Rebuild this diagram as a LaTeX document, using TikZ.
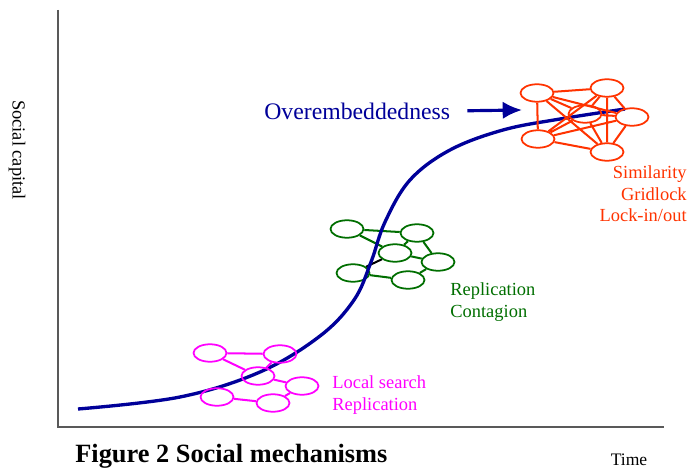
\documentclass[tikz,border=0pt]{standalone}
\usepackage{fontspec}
\setmainfont{Liberation Serif}
\usetikzlibrary{arrows.meta,shapes.geometric}

\definecolor{navy}{RGB}{0,0,153}
\definecolor{pinkish}{RGB}{255,0,255}
\definecolor{leaf}{RGB}{0,110,0}
\definecolor{flame}{RGB}{255,51,0}

\tikzset{
  actor/.style={draw,ellipse,minimum width=0.66cm,minimum height=0.35cm,inner sep=0pt,line width=1pt},
  tie/.style={line width=1.15pt},
  lbl/.style={inner sep=0pt,font=\fontsize{10.5}{12.2}\selectfont},
}

\begin{document}
\begin{tikzpicture}[x=0.02cm,y=-0.02cm,>=latex]
    \useasboundingbox (0,0) rectangle (688,469);
    % axes and their labels
    \draw[line width=0.8pt,gray!70!black] (58,10) -- (58,427) -- (664,427);
    \node[lbl,rotate=-90] (ylab) at (17,150) {Social capital};
    \node[lbl,font=\fontsize{10}{12}\selectfont] (xlab) at (629,460) {Time};
    \node[inner sep=0pt,anchor=west,font=\fontsize{15}{18}\selectfont\bfseries] (cap) at (75,456) {Figure 2 Social mechanisms};

    % middle network (green)
    \begin{scope}[leaf]
      \node[actor] (ga) at (347,229) {};
      \node[actor] (gb) at (417,233) {};
      \node[actor] (gc) at (395,253) {};
      \node[actor] (gd) at (438,262) {};
      \node[actor] (ge) at (353,273) {};
      \node[actor] (gf) at (408,280) {};
      \draw[tie] (ga) -- (gb) (ga) -- (gc) (gb) -- (gc) (gb) -- (gd)
        (gc) -- (gd) (gd) -- (gf) (ge) -- (gf);
      \draw[tie,black] (ge) -- (gc);
    \end{scope}

    % growth curve
    \draw[line width=1.9pt,navy] plot[smooth,tension=0.6] coordinates {
      (78,409) (180,397) (260,372) (320,336) (354,300) (371,262)
      (385,222) (410,180) (450,150) (503,130) (560,119) (625,109)};

    % early network (magenta)
    \begin{scope}[pinkish]
      \node[actor] (ma) at (210,353) {};
      \node[actor] (mb) at (280,354) {};
      \node[actor] (mc) at (258,376) {};
      \node[actor] (md) at (302,386) {};
      \node[actor] (me) at (217,397) {};
      \node[actor] (mf) at (273,403) {};
      \draw[tie] (ma) -- (mb) (ma) -- (mc) (mb) -- (mc) (mc) -- (md)
        (md) -- (mf) (me) -- (mf);
      \node[lbl,anchor=west,align=left] (mlab) at (332,395) {Local search\\Replication};
    \end{scope}
    \node[lbl,anchor=west,align=left,text=leaf] (glab) at (450,302) {Replication\\Contagion};

    % late network (orange), every pair tied
    \begin{scope}[flame]
      \node[actor] (oa) at (537,93) {};
      \node[actor] (ob) at (607,88) {};
      \node[actor] (oc) at (585,114) {};
      \node[actor] (od) at (632,117) {};
      \node[actor] (oe) at (538,139) {};
      \node[actor] (of) at (607,152) {};
      \draw[tie] (oa) -- (ob) (oa) -- (oc) (oa) -- (od) (oa) -- (oe) (oa) -- (of)
        (ob) -- (oc) (ob) -- (od) (ob) -- (oe) (ob) -- (of)
        (oc) -- (od) (oc) -- (oe) (oc) -- (of)
        (od) -- (oe) (od) -- (of) (oe) -- (of);
      \node[lbl,anchor=east,align=right] (olab) at (687,194) {Similarity\\Gridlock\\Lock-in/out};
    \end{scope}

    % label pointing at the dense network
    \node[inner sep=0pt,anchor=west,text=navy,font=\fontsize{13.5}{16}\selectfont] (over) at (264,111) {Overembeddedness};
    \coordinate (tip) at (522,110);
    \draw[-{Latex[length=11pt,width=10pt]},line width=1.8pt,navy,shorten <=0.34cm] (over.east) -- (tip);
\end{tikzpicture}
\end{document}
